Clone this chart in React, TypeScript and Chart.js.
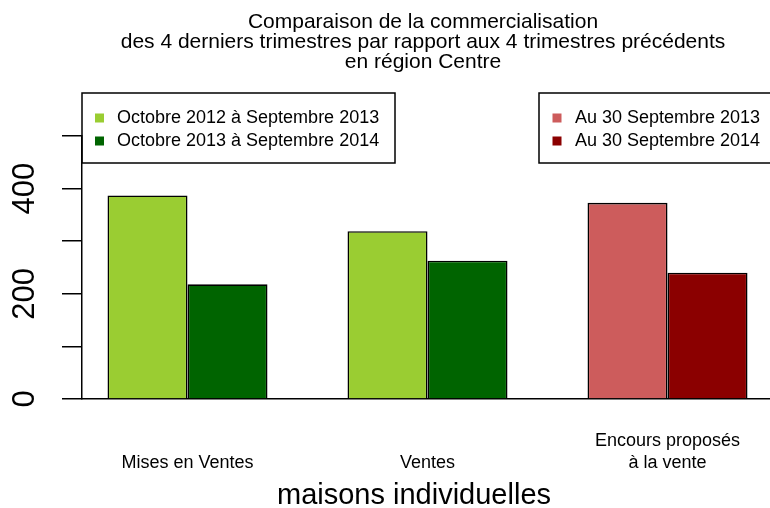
import React, { useEffect, useRef } from 'react';
import { Chart, registerables } from 'chart.js';

Chart.register(...registerables);

const FONT = '"Liberation Sans", Arial, Helvetica, sans-serif';

// ---- data ----
const titleLines = [
  'Comparaison de la commercialisation',
  'des 4 derniers trimestres par rapport aux 4 trimestres précédents',
  'en région Centre',
];
const categories: string[][] = [['Mises en Ventes'], ['Ventes'], ['Encours proposés', 'à la vente']];
const xAxisTitle = 'maisons individuelles';
const periodLabels = ['Octobre 2012 à Septembre 2013', 'Octobre 2013 à Septembre 2014'];
const stockLabels = ['Au 30 Septembre 2013', 'Au 30 Septembre 2014'];
const isStock = [false, false, true];
const previousValues = [387, 319, 373];
const currentValues = [218, 263, 240];
const yTicks = [0, 100, 200, 300, 400, 500];
const yTickLabels = [0, 200, 400];

// ---- styles ----
const LIGHT_GREEN = '#9ACD32';
const DARK_GREEN = '#006400';
const LIGHT_RED = '#CD5C5C';
const DARK_RED = '#8B0000';

function drawLegend(ctx: CanvasRenderingContext2D, x: number, y: number, w: number, h: number,
  labels: string[], colors: string[], sqX: number, txtX: number, rows: number[]) {
  ctx.save();
  ctx.strokeStyle = '#000';
  ctx.lineWidth = 1.5;
  ctx.strokeRect(x, y, w, h);
  ctx.font = `18px ${FONT}`;
  ctx.textAlign = 'left';
  ctx.textBaseline = 'middle';
  labels.forEach((l, i) => {
    ctx.fillStyle = colors[i];
    ctx.fillRect(sqX - 4.5, rows[i] - 4.5, 9, 9);
    ctx.fillStyle = '#000';
    ctx.fillText(l, txtX, rows[i]);
  });
  ctx.restore();
}

const overlayPlugin = {
  id: 'overlay',
  afterDraw(chart: any) {
    const ctx: CanvasRenderingContext2D = chart.ctx;
    ctx.save();
    ctx.fillStyle = '#000';
    ctx.textAlign = 'center';
    ctx.textBaseline = 'alphabetic';
    ctx.font = `21px ${FONT}`;
    titleLines.forEach((t, i) => ctx.fillText(t, 423, 28 + i * 20));
    ctx.font = `29px ${FONT}`;
    ctx.fillText(xAxisTitle, 414, 504);
    ctx.restore();
    drawLegend(ctx, 82, 93, 313, 70, periodLabels, [LIGHT_GREEN, DARK_GREEN], 99.5, 117, [118, 141]);
    drawLegend(ctx, 539, 93, 260, 70, stockLabels, [LIGHT_RED, DARK_RED], 557, 575, [118, 141]);
  },
};

export default function App() {
  const ref = useRef<HTMLCanvasElement | null>(null);
  useEffect(() => {
    if (!ref.current) return;
    const chart = new Chart(ref.current, {
      type: 'bar',
      data: {
        datasets: [
          {
            label: periodLabels[0],
            data: previousValues.map((v, i) => ({ x: i + 1, y: v })),
            backgroundColor: isStock.map((s) => (s ? LIGHT_RED : LIGHT_GREEN)),
            borderColor: '#000',
            borderWidth: 1.6,
          },
          {
            label: periodLabels[1],
            data: currentValues.map((v, i) => ({ x: i + 1, y: v })),
            backgroundColor: isStock.map((s) => (s ? DARK_RED : DARK_GREEN)),
            borderColor: '#000',
            borderWidth: 1.6,
          },
        ] as any,
      },
      options: {
        animation: false,
        responsive: false,
        categoryPercentage: 2 / 3,
        barPercentage: 1,
        layout: { padding: { top: 136, left: 0, right: 0, bottom: 0 } },
        plugins: {
          legend: { display: false },
          title: { display: false },
          tooltip: { enabled: false },
        },
        scales: {
          x: {
            type: 'linear',
            min: 0.5604,
            max: 3.427,
            offset: false,
            grid: { display: false, drawTicks: false },
            border: { display: true, color: '#000', width: 1.5 },
            afterBuildTicks: (s: any) => {
              s.ticks = categories.map((_, i) => ({ value: i + 1 }));
            },
            afterFit: (s: any) => {
              s.height = 109;
              s.paddingLeft = 0;
              s.paddingRight = 0;
            },
            ticks: {
              autoSkip: false,
              minRotation: 0,
              maxRotation: 0,
              crossAlign: 'far',
              padding: 42,
              color: '#000',
              font: { family: FONT, size: 18, lineHeight: 1.2 },
              callback: (v: any) => {
                const c = categories[Math.round(Number(v)) - 1];
                if (!c) return '';
                return c.length === 1 ? c[0] : c;
              },
            },
          },
          y: {
            min: 0,
            max: 500,
            afterBuildTicks: (s: any) => {
              s.ticks = yTicks.map((v) => ({ value: v }));
            },
            afterFit: (s: any) => {
              s.width = 82;
            },
            grid: { drawOnChartArea: false, drawTicks: true, tickLength: 20, color: '#000', lineWidth: 1.5 },
            border: { display: true, color: '#000', width: 1.5 },
            ticks: {
              autoSkip: false,
              minRotation: 90,
              maxRotation: 90,
              crossAlign: 'center',
              padding: 11,
              color: '#000',
              font: { family: FONT, size: 31 },
              callback: (v: any) => (yTickLabels.includes(Number(v)) ? String(v) : ''),
            },
          },
        } as any,
      },
      plugins: [overlayPlugin],
    });
    return () => chart.destroy();
  }, []);

  return (
    <div style={{ position: 'absolute', left: 0, top: 0, width: 770, height: 508, overflow: 'hidden', background: '#fff' }}>
      <canvas ref={ref} width={770} height={508} style={{ display: 'block' }} />
    </div>
  );
}
